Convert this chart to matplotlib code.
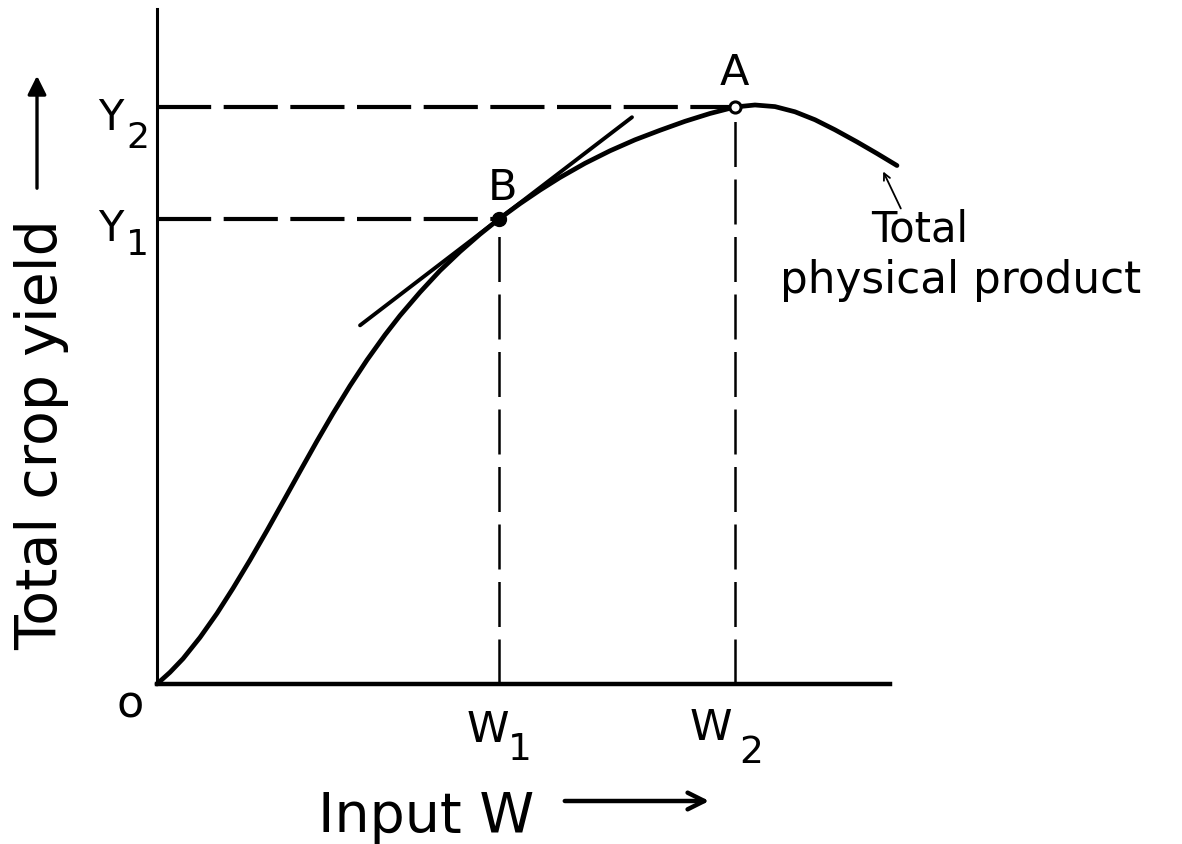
import matplotlib
matplotlib.use("Agg")
import matplotlib.pyplot as plt
from matplotlib.patches import FancyArrowPatch

# ---- data (abstract units: input W 0..100, yield 0..100) ----
curve_x = [0, 1.77, 3.55, 5.87, 8.19, 10.37, 12.69, 15.01, 17.19, 19.51, 21.83,
           24.01, 26.33, 28.65, 31.11, 33.15, 35.88, 38.61, 41.34, 44.07, 46.66,
           49.52, 52.25, 54.98, 58.39, 61.80, 65.21, 68.62, 72.03, 75.44, 78.85,
           81.58, 84.31, 87.04, 89.77, 92.50, 95.50, 98.23, 100.95]
curve_y = [0, 1.73, 3.75, 6.90, 10.47, 14.18, 18.36, 22.74, 26.98, 31.51, 36.00,
           40.07, 44.18, 48.00, 51.73, 54.58, 58.04, 61.24, 64.06, 66.64, 68.89,
           71.16, 73.17, 75.04, 77.14, 78.99, 80.62, 82.03, 83.36, 84.52, 85.48,
           85.78, 85.54, 84.77, 83.59, 82.10, 80.31, 78.59, 76.81]
point_B = (46.66, 68.89)
point_A = (78.85, 85.48)
tangent_slope = 0.831
tangent_x = [27.7, 64.8]

W, H = 1182, 845
plt.rcParams['font.family'] = ['DejaVu Sans']
fig = plt.figure(figsize=(W / 100, H / 100), dpi=100)
ax = fig.add_axes([157 / W, 1 - 685 / H, 733 / W, 675 / H])
ax.set_xlim(0, 100)
ax.set_ylim(0, 100)
for s in ['top', 'right']:
    ax.spines[s].set_visible(False)
ax.spines['left'].set_linewidth(2.2)
ax.spines['bottom'].set_linewidth(3.2)
ax.set_xticks([])
ax.set_yticks([])

# curve
ax.plot(curve_x, curve_y, color='black', lw=3.4, solid_capstyle='round',
        solid_joinstyle='round', clip_on=False, zorder=3)

# tangent at B
ty = [point_B[1] + tangent_slope * (x - point_B[0]) for x in tangent_x]
ax.plot(tangent_x, ty, color='black', lw=2.8, solid_capstyle='round', zorder=3)

# dashed guides
ax.plot([0, point_A[0]], [point_A[1], point_A[1]], color='black', lw=3.0,
        dashes=(13, 3), zorder=2)
ax.plot([0, point_B[0]], [point_B[1], point_B[1]], color='black', lw=3.0,
        dashes=(13, 3), zorder=2)
ax.plot([point_A[0], point_A[0]], [0, point_A[1]], color='black', lw=1.8,
        dashes=(18, 5), zorder=2)
ax.plot([point_B[0], point_B[0]], [0, point_B[1]], color='black', lw=1.8,
        dashes=(18, 5), zorder=2)

# points
ax.plot([point_B[0]], [point_B[1]], 'o', ms=10, mfc='black', mec='black', zorder=4)
ax.plot([point_A[0]], [point_A[1]], 'o', ms=8, mfc='white', mec='black', mew=2.2,
        zorder=4)


def fx(px):
    return px / W


def fy(py):
    return 1 - py / H


def t(px, py, s, size, ha='center', va='baseline', **kw):
    fig.text(fx(px), fy(py), s, fontsize=size, ha=ha, va=va, color='black', **kw)


# point labels
t(734, 85, 'A', 31)
t(502, 200, 'B', 31)
t(130, 718, 'o', 32)

# Y labels with subscripts
t(111, 130, 'Y', 30)
t(138, 148, '2', 26)
t(111, 241, 'Y', 30)
t(137, 255, '1', 26)

# W labels with subscripts
t(488, 742, 'W', 31)
t(520, 760, '1', 27)
t(711, 740, 'W', 31)
t(751, 763, '2', 27)

# curve annotation
t(920, 242, 'Total', 30)
t(961, 293, 'physical product', 31.5)
fig.add_artist(FancyArrowPatch((fx(902), fy(212)), (fx(882), fy(170)),
                               transform=fig.transFigure, arrowstyle='->',
                               mutation_scale=12, lw=1.3, color='black'))

# axis titles
t(426, 832, 'Input W', 40)
fig.add_artist(FancyArrowPatch((fx(562), fy(802)), (fx(712), fy(802)),
                               transform=fig.transFigure, arrowstyle='->',
                               mutation_scale=30, lw=3.2, color='black'))
t(42, 435, 'Total crop yield', 41, va='center', rotation=90)
fig.add_artist(FancyArrowPatch((fx(37), fy(192)), (fx(37), fy(74)),
                               transform=fig.transFigure, arrowstyle='-|>',
                               mutation_scale=28, lw=2.4, color='black'))

fig.savefig('out.png', dpi=100)
